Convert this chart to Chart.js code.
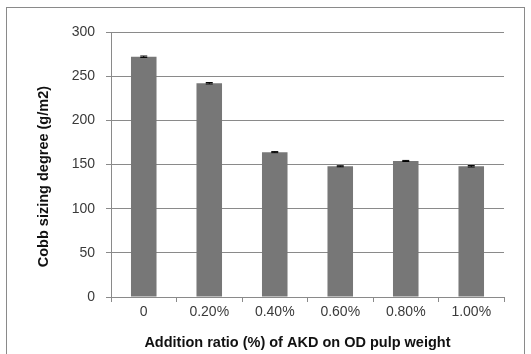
<!DOCTYPE html>
<html>
<head>
<meta charset="utf-8">
<script src="https://cdn.jsdelivr.net/npm/chart.js@4.4.0/dist/chart.umd.min.js"></script>
<style>
  body { margin: 0; background: #fff; }
  #wrap { position: relative; width: 531px; height: 354px; }
  #frame { position: absolute; left: 6px; top: 7px; width: 517px; height: 360px; border: 1px solid #8a8a8a; }
  canvas { position: absolute; left: 0; top: 0; }
</style>
</head>
<body>
<div id="wrap">
  <div id="frame"></div>
  <canvas id="myChart" width="531" height="354"></canvas>
</div>
<script>
var categorie = ['0', '0.20%', '0.40%', '0.60%', '0.80%', '1.00%'];
var cobb = [272, 242, 164, 148, 154, 148];
var errori = [0.8, 0.8, 0.6, 0.6, 0.6, 0.8];
var tickY = [0, 50, 100, 150, 200, 250, 300];

// piccole barre di errore nere sopra ogni colonna
var errorBars = {
  id: 'errorBars',
  afterDatasetsDraw: function(chart) {
    var ctx = chart.ctx;
    var meta = chart.getDatasetMeta(0);
    var y = chart.scales.y;
    ctx.save();
    ctx.strokeStyle = '#000';
    ctx.lineWidth = 1;
    meta.data.forEach(function(bar, i) {
      var top = y.getPixelForValue(cobb[i] + errori[i]);
      var bot = y.getPixelForValue(cobb[i] - errori[i]);
      ctx.beginPath();
      ctx.moveTo(bar.x, top); ctx.lineTo(bar.x, bot);
      ctx.moveTo(bar.x - 3.5, top); ctx.lineTo(bar.x + 3.5, top);
      ctx.moveTo(bar.x - 3.5, bot); ctx.lineTo(bar.x + 3.5, bot);
      ctx.stroke();
    });
    ctx.restore();
  }
};

var ctx = document.getElementById('myChart').getContext('2d');
var myChart = new Chart(ctx, {
  type: 'bar',
  data: {
    labels: categorie,
    datasets: [{
      data: cobb,
      backgroundColor: '#777777',
      borderWidth: 0,
      barPercentage: 0.39,
      categoryPercentage: 1
    }]
  },
  options: {
    responsive: false,
    animation: false,
    layout: { padding: { left: 0, top: 32, right: 27, bottom: 0 } },
    plugins: { legend: { display: false }, tooltip: { enabled: false } },
    scales: {
      x: {
        grid: { display: true, offset: true, drawOnChartArea: false, drawTicks: true, tickLength: 5, color: '#8a8a8a' },
        border: { color: '#8a8a8a' },
        ticks: { color: '#3a3a3a', font: { family: 'Liberation Sans', size: 14 }, padding: 2 },
        // spazi finali per spostare il titolo un po' a sinistra come nell'originale
        title: { display: true, text: 'Addition ratio (%) of AKD on OD pulp weight     ', color: '#111',
                 font: { family: 'Liberation Sans', size: 14.5, weight: 'bold' }, padding: { top: 4, bottom: 2 } },
        afterFit: function(scale) { scale.height = 57; }
      },
      y: {
        min: 0, max: 300,
        afterBuildTicks: function(scale) { scale.ticks = tickY.map(function(v) { return { value: v }; }); },
        grid: { color: '#8a8a8a', tickLength: 5 },
        border: { color: '#8a8a8a' },
        ticks: { color: '#3a3a3a', font: { family: 'Liberation Sans', size: 14 }, padding: 11 },
        title: { display: true, text: 'Cobb sizing degree (g/m2)      ', color: '#111',
                 font: { family: 'Liberation Sans', size: 14.5, weight: 'bold' }, padding: { top: 35, bottom: 0 } },
        afterFit: function(scale) { scale.width = 111; }
      }
    }
  },
  plugins: [errorBars]
});
</script>
</body>
</html>
